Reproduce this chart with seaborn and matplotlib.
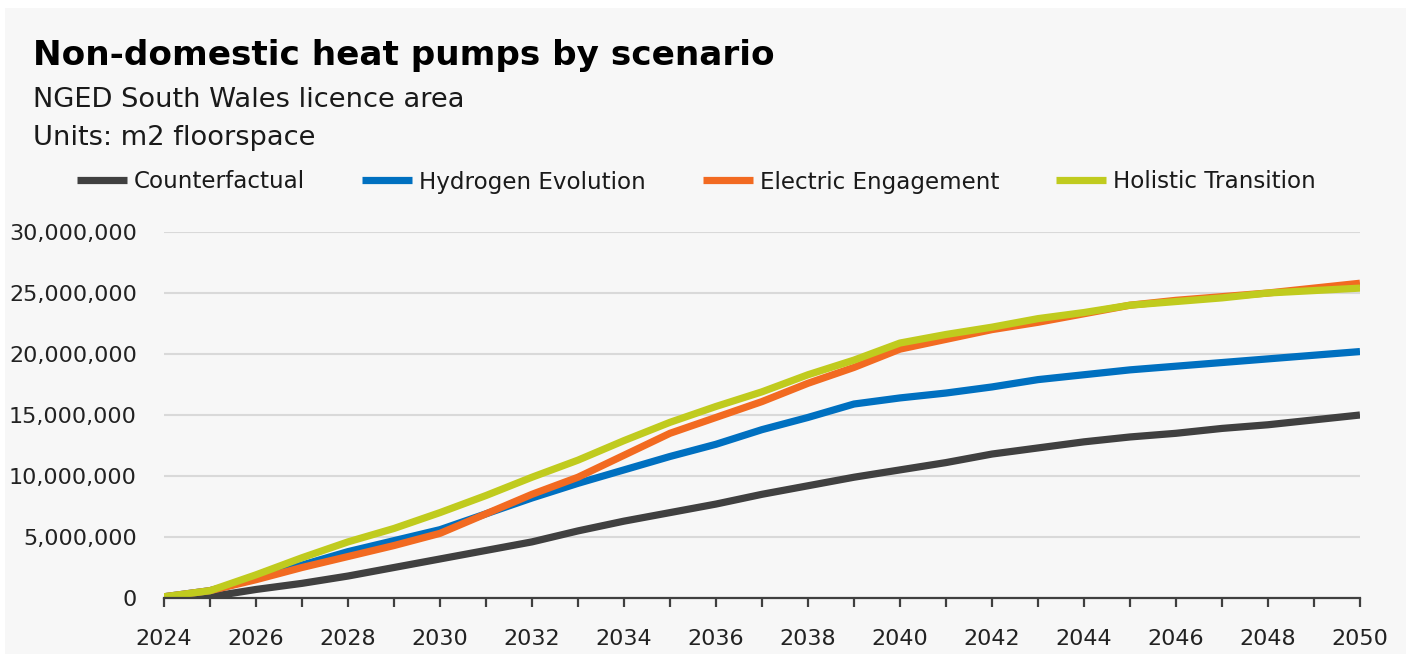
import numpy as np
import pandas as pd
import matplotlib
matplotlib.use("Agg")
import matplotlib.pyplot as plt
from matplotlib.patches import Rectangle
from matplotlib.lines import Line2D
import seaborn as sns

# ---------------- data ----------------
years = list(range(2024, 2051))
counterfactual = [0.1, 0.1, 0.7, 1.2, 1.8, 2.5, 3.2, 3.9, 4.6, 5.5, 6.3, 7.0, 7.7, 8.5, 9.2,
                  9.9, 10.5, 11.1, 11.8, 12.3, 12.8, 13.2, 13.5, 13.9, 14.2, 14.6, 15.0]
hydrogen = [0.1, 0.6, 1.6, 2.7, 3.8, 4.7, 5.6, 6.9, 8.2, 9.4, 10.5, 11.6, 12.6, 13.8, 14.8,
            15.9, 16.4, 16.8, 17.3, 17.9, 18.3, 18.7, 19.0, 19.3, 19.6, 19.9, 20.2]
electric = [0.1, 0.6, 1.5, 2.5, 3.4, 4.3, 5.3, 6.9, 8.5, 9.9, 11.7, 13.5, 14.8, 16.1, 17.6,
            18.9, 20.4, 21.2, 22.0, 22.6, 23.3, 24.0, 24.4, 24.7, 25.0, 25.4, 25.8]
holistic = [0.1, 0.6, 1.9, 3.3, 4.6, 5.7, 7.0, 8.4, 9.9, 11.3, 12.9, 14.4, 15.7, 16.9, 18.3,
            19.5, 20.9, 21.6, 22.2, 22.9, 23.4, 24.0, 24.3, 24.6, 25.0, 25.2, 25.4]
series_names = ["Counterfactual", "Hydrogen Evolution", "Electric Engagement", "Holistic Transition"]
series_values = [counterfactual, hydrogen, electric, holistic]
colors = ["#404040", "#0070c0", "#f26a21", "#c0cb1e"]
title = "Non-domestic heat pumps by scenario"
subtitle1 = "NGED South Wales licence area"
subtitle2 = "Units: m2 floorspace"
yticks = [0, 5_000_000, 10_000_000, 15_000_000, 20_000_000, 25_000_000, 30_000_000]

# ---------------- long-form table ----------------
rows = []
for name, vals in zip(series_names, series_values):
    for y, v in zip(years, vals):
        rows.append({"Year": y, "Value": v * 1_000_000, "Scenario": name})
df = pd.DataFrame(rows)

sns.set_theme(style="white")
plt.rcParams["font.family"] = ["DejaVu Sans"]

BG = "#f7f7f7"
fig = plt.figure(figsize=(14.06, 6.54), dpi=100, facecolor="white")
fig.patches.append(Rectangle((5 / 1406, 0), 1, 1 - 8 / 654, transform=fig.transFigure,
                             facecolor=BG, edgecolor="none", zorder=-10))

ax = fig.add_axes([164 / 1406, 1 - 598 / 654, (1360 - 164) / 1406, (598 - 232) / 654])
ax.set_facecolor(BG)

sns.lineplot(data=df, x="Year", y="Value", hue="Scenario", hue_order=series_names,
             palette=colors, linewidth=5.2, ax=ax, legend=False, solid_capstyle="butt")

ax.set_xlim(2024, 2050)
ax.set_ylim(0, 30_000_000)
ax.set_yticks(yticks)
ax.set_yticklabels([f"{v:,.0f}" for v in yticks])
ax.set_xticks(years)
ax.set_xticklabels([str(y) if (y - 2024) % 2 == 0 else "" for y in years])
ax.set_xlabel("")
ax.set_ylabel("")

ax.grid(axis="y", color="#d9d9d9", linewidth=1.5)
ax.set_axisbelow(True)
for s in ["top", "right", "left"]:
    ax.spines[s].set_visible(False)
ax.spines["bottom"].set_color("#404040")
ax.spines["bottom"].set_linewidth(1.6)
ax.spines["bottom"].set_zorder(5)
ax.tick_params(axis="x", direction="out", length=6.5, width=1.6, color="#404040",
               pad=16, labelsize=16, labelcolor="#222222", bottom=True)
ax.tick_params(axis="y", length=0, pad=19.5, labelsize=16, labelcolor="#222222")

# titles
fig.text(33 / 1406, 1 - 65 / 654, title, fontsize=24.7, fontweight="bold",
         va="baseline", ha="left", color="#000000")
fig.text(33 / 1406, 1 - 107 / 654, subtitle1, fontsize=19.6,
         va="baseline", ha="left", color="#1a1a1a")
fig.text(33 / 1406, 1 - 145 / 654, subtitle2, fontsize=19.6,
         va="baseline", ha="left", color="#1a1a1a")

# legend
handles = [Line2D([0], [0], color=c, linewidth=5.2, solid_capstyle="butt") for c in colors]
leg = fig.legend(handles, series_names, ncol=4, loc="center left",
                 bbox_to_anchor=(77 / 1406, 1 - 182 / 654), frameon=False,
                 borderpad=0, borderaxespad=0,
                 handlelength=2.17, handletextpad=0.3, columnspacing=2.47,
                 prop={"size": 16.6})
for t in leg.get_texts():
    t.set_color("#1a1a1a")

fig.savefig("out.png", dpi=100, facecolor=fig.get_facecolor())
